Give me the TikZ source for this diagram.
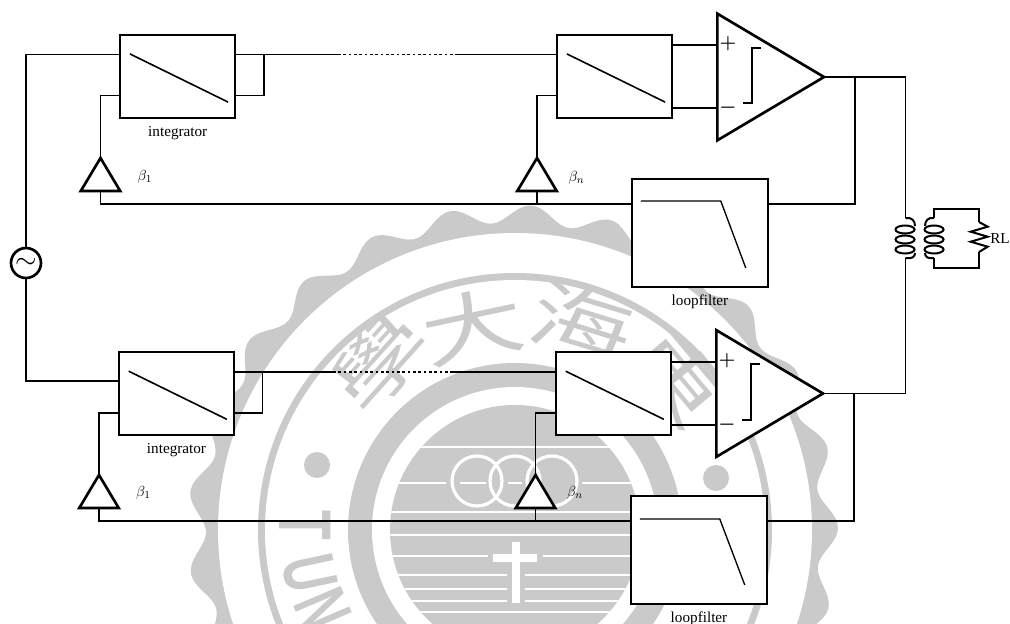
\documentclass[tikz,border=0pt]{standalone}
\usepackage{fontspec}
\setmainfont{Liberation Serif}
\newfontfamily\sealcjk{Noto Sans CJK TC}
\newfontfamily\sealsans{Liberation Sans}
\usetikzlibrary{shapes.geometric, positioning}
\definecolor{sealgray}{HTML}{CACACA}
\tikzset{
	wire/.style={line width=1pt},
	bigbox/.style={rectangle, draw, fill=white, line width=1.4pt, inner sep=0pt, outer sep=0pt},
	intbox/.style={bigbox, minimum width=86pt, minimum height=62pt},
	filterbox/.style={bigbox, minimum width=101.6pt, minimum height=81pt},
	gain/.style={isosceles triangle, isosceles triangle stretches, shape border rotate=90, draw, fill=white, line width=2pt, inner sep=0pt, outer sep=0pt, minimum width=29.5pt, minimum height=24.7pt, anchor=apex},
	amp/.style={isosceles triangle, isosceles triangle stretches, draw, fill=white, line width=2pt, inner sep=0pt, outer sep=0pt, minimum width=95pt, minimum height=80pt, anchor=apex},
	lbl/.style={inner sep=0pt, font=\fontsize{11.4}{13}\selectfont},
	curve/.style={line width=1.2pt},
	coil/.style={line width=1.5pt},
	sign/.style={inner sep=0pt, font=\Large\boldmath},
	sealchar/.style={sealgray, inner sep=0pt, font=\sealcjk\fontsize{70}{70}\selectfont},
	seallatin/.style={sealgray, inner sep=0pt, font=\sealsans\bfseries\fontsize{56}{56}\selectfont}
}
\begin{document}
\begin{tikzpicture}[x=0.75pt, y=-0.75pt]
	\useasboundingbox (0,0) rectangle (1010,624);
	
	% Watermark
	\begin{scope}
		\clip (0,0) rectangle (1010,624);
		\fill[sealgray] plot[domain=0:360, samples=361] ({513+(316+9*cos(25*(\x+86.8)))*cos(\x)}, {530+(316+9*cos(25*(\x+86.8)))*sin(\x)}) -- cycle;
		\fill[white] (515,530) circle (297);
		\fill[sealgray] (515,530) circle (257);
		\fill[white] (515,530) circle (250);
		\fill[sealgray] (515,530) circle (167);
		\fill[white] (515,530) circle (143);
		\fill[sealgray] (515,530) circle (125);
		\fill[sealgray] (317,465) circle (13);
		\fill[sealgray] (716,478) circle (13);
		\node[sealchar, rotate=48] (seald) at (380,363) {\scalebox{1.1}[.8]{學}};
		\node[sealchar, rotate=12] (sealc) at (473,326) {\scalebox{1.1}[.8]{大}};
		\node[sealchar, rotate=-17] (sealh) at (582,323) {\scalebox{1.1}[.8]{海}};
		\node[sealchar, rotate=-50] (seale) at (677,377) {\scalebox{1.1}[.8]{東}};
		\node[seallatin, rotate=-90] (sealt) at (305,525) {\scalebox{.65}[1]{T}};
		\node[seallatin, rotate=-78] (sealu) at (310,573) {\scalebox{.65}[1]{U}};
		\node[seallatin, rotate=-67] (sealn) at (323,610) {\scalebox{.65}[1]{N}};
		\begin{scope}
			\clip (515,530) circle (125);
			\draw[white, line width=2.2pt] (380,447) -- (650,447);
			\draw[white, line width=2.2pt] (380,483) -- (446,483) (460,483) -- (486,483) (508,483) -- (522,483) (582,483) -- (650,483);
			\draw[white, line width=2.2pt] (380,512) -- (650,512);
			\draw[white, line width=2.2pt] (380,535) -- (650,535);
			\draw[white, line width=2.2pt] (380,556) -- (488,556) (543,556) -- (650,556);
			\draw[white, line width=2.2pt] (380,575) -- (507,575) (525,575) -- (650,575);
			\draw[white, line width=2.2pt] (380,589) -- (507,589) (525,589) -- (650,589);
			\draw[white, line width=2.2pt] (380,601) -- (507,601) (525,601) -- (650,601);
			\draw[white, line width=2.2pt] (380,612) -- (650,612);
		\end{scope}
		\draw[white, line width=2.4pt] (477,481) circle (25);
		\draw[white, line width=2.4pt] (515,481) circle (25);
		\draw[white, line width=2.4pt] (552,481) circle (25);
		\draw[white, line width=6pt] (515.5,542) -- (515.5,603);
		\draw[white, line width=6.5pt] (493,558) -- (537,558);
	\end{scope}
	
	% Upper branch
	\node[intbox] (inta) at (177.75,76.25) {};
	\node[intbox] (intb) at (614.75,76.25) {};
	\node[filterbox] (filta) at (700,233) {};
	\node[gain] (gaina) at (100.5,158) {};
	\node[gain] (gainb) at (537,158) {};
	\node[amp] (ampa) at (824,77) {};
	\node[lbl, below=6.4pt of inta] (inta-lbl) {integrator};
	\node[lbl, below=6pt of filta] (filta-lbl) {loopfilter};
	\node[lbl] (gaina-lbl) at (145,177) {$\beta_1$};
	\node[lbl] (gainb-lbl) at (576.5,178) {$\beta_n$};
	\node[sign] (plusa) at (728,44) {$+$};
	\node[sign] (minusa) at (728,108) {$-$};
	
	% Lower branch
	\node[intbox] (intc) at (176.5,393.5) {};
	\node[intbox] (intd) at (613.5,393.5) {};
	\node[filterbox] (filtb) at (699,550) {};
	\node[gain] (gainc) at (99,475) {};
	\node[gain] (gaind) at (535.5,475) {};
	\node[amp] (ampb) at (823,393.5) {};
	\node[lbl, below=6.4pt of intc] (intc-lbl) {integrator};
	\node[lbl, below=6pt of filtb] (filtb-lbl) {loopfilter};
	\node[lbl] (gainc-lbl) at (143.5,493) {$\beta_1$};
	\node[lbl] (gaind-lbl) at (575,493) {$\beta_n$};
	\node[sign] (plusb) at (727,361) {$+$};
	\node[sign] (minusb) at (727,425) {$-$};
	
	% Source
	\node[circle, draw, line width=2pt, inner sep=0pt, minimum size=22.5pt] (src) at (26,263) {\huge$\sim$};
	\node[lbl, anchor=west] (rl) at (990,239) {RL};
	
	% Inside the boxes
	\draw[curve] ([shift={(9.5,19)}]inta.north west) -- ([shift={(-7,-15.5)}]inta.south east);
	\draw[curve] ([shift={(9.5,19)}]intb.north west) -- ([shift={(-7,-15.5)}]intb.south east);
	\draw[curve] ([shift={(9.5,19)}]intc.north west) -- ([shift={(-7,-15.5)}]intc.south east);
	\draw[curve] ([shift={(9.5,19)}]intd.north west) -- ([shift={(-7,-15.5)}]intd.south east);
	\draw[wire] ([shift={(8.5,22)}]filta.north west) -- ++(80,0) -- ++(25,67);
	\draw[wire] ([shift={(8.5,23)}]filtb.north west) -- ++(80,0) -- ++(25,66);
	
	% Hysteresis
	\draw[curve] (761,48) -- (752,48) -- (752,103) -- (743,103);
	\draw[curve] (760,364) -- (751,364) -- (751,420) -- (742,420);
	
	% Transformer
	\coordinate (pritop) at (905.5,218);
	\coordinate (pribot) at (905.5,258);
	\coordinate (sectop) at (934,218);
	\coordinate (secbot) at (934,258);
	\coordinate (rtop) at (979,222);
	\coordinate (rbot) at (979,252);
	\draw[coil] (pritop) .. controls (912,217) and (915,221) .. (915,226);
	\draw[coil] (915,253) .. controls (915,257) and (912,259) .. (pribot);
	\draw[coil] (905,229.5) ellipse (9.5 and 4);
	\draw[coil] (905,239.5) ellipse (9.5 and 4);
	\draw[coil] (905,249.5) ellipse (9.5 and 4);
	\draw[coil] (sectop) .. controls (928,217) and (925,221) .. (925,226);
	\draw[coil] (925,253) .. controls (925,257) and (928,259) .. (secbot);
	\draw[coil] (934,229.5) ellipse (9.5 and 4);
	\draw[coil] (934,239.5) ellipse (9.5 and 4);
	\draw[coil] (934,249.5) ellipse (9.5 and 4);
	\draw[coil] (rtop) -- (987.7,226.7) -- (970.7,231.7) -- (987.7,236.7) -- (970.7,241.7) -- (987.7,246.7) -- (rbot);
	\draw[wire] (sectop) -- ++(0,-9) -| (rtop);
	\draw[wire] (secbot) -- ++(0,10) -| (rbot);
	
	% Wires
	\draw[wire] (src.north) |- (inta.west |- 0,54.5);
	\draw[wire] (src.south) |- (intc.west |- 0,381);
	\draw[wire] (inta.east |- 0,54.5) -- (338,54.5);
	\draw[wire, dash pattern=on 2pt off 2pt] (338,54.5) -- (455,54.5);
	\draw[wire] (455,54.5) -- (intb.west |- 0,54.5);
	\draw[wire] (264,54.5) |- (inta.east |- 0,95.5);
	\draw[wire] (gaina.apex) |- (inta.west |- 0,95.5);
	\draw[wire] (gainb.apex) |- (intb.west |- 0,95.5);
	\draw[wire] (gaina.lower side) |- (filta.west |- 0,204);
	\draw[wire] (gainb.lower side) -- (gainb.lower side |- 0,204);
	\draw[wire] (filta.east |- 0,204) -| (855,77);
	\draw[wire] (intb.east |- 0,45) -- (ampa.left corner |- 0,45);
	\draw[wire] (intb.east |- 0,108) -- (ampa.left corner |- 0,108);
	\draw[wire] (ampa.apex) -| (pritop);
	\draw[wire] (pribot) |- (ampb.apex);
	
	\draw[wire] (intc.east |- 0,372) -- (333,372);
	\draw[wire, dash pattern=on 2pt off 2pt] (333,372) -- (453,372);
	\draw[wire] (453,372) -- (intd.west |- 0,372);
	\draw[wire] (262.5,372) |- (intc.east |- 0,413);
	\draw[wire] (gainc.apex) |- (intc.west |- 0,413);
	\draw[wire] (gaind.apex) |- (intd.west |- 0,413);
	\draw[wire] (gainc.lower side) |- (filtb.west |- 0,521);
	\draw[wire] (gaind.lower side) -- (gaind.lower side |- 0,521);
	\draw[wire] (filtb.east |- 0,521) -| (854,393.5);
	\draw[wire] (intd.east |- 0,362) -- (ampb.left corner |- 0,362);
	\draw[wire] (intd.east |- 0,425) -- (ampb.left corner |- 0,425);
\end{tikzpicture}
\end{document}
